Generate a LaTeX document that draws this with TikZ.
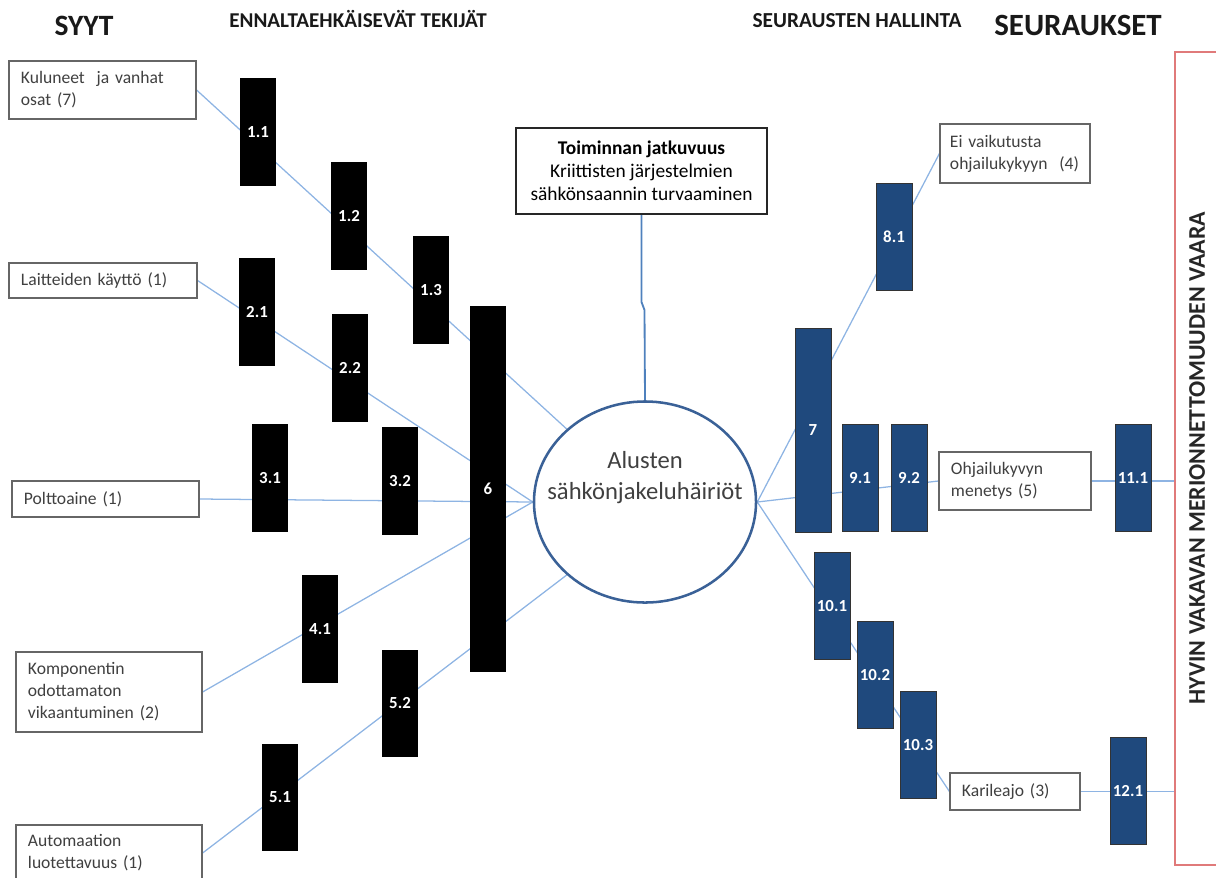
\documentclass[tikz,border=0pt]{standalone}
\usepackage{fontspec}
\setmainfont{Carlito}
\usepackage{tikz}
\usetikzlibrary{shapes.geometric}
\definecolor{tummansininen}{HTML}{1F497D}
\definecolor{vaaleansininen}{HTML}{8EB4E3}
\definecolor{keskisininen}{HTML}{4F81BD}
\definecolor{reunus}{HTML}{3A6197}
\definecolor{punainen}{HTML}{E07A7A}
\definecolor{teksti}{HTML}{404040}
\pgfdeclarelayer{tausta}
\pgfsetlayers{tausta,main}

\begin{document}
\begin{tikzpicture}[x=0.025cm, y=-0.025cm,
    musta/.style={fill=black, minimum width=0.9cm, minimum height=2.675cm, inner sep=0pt,
        text=white, font=\fontsize{12}{13}\selectfont\bfseries},
    sininen/.style={musta, fill=tummansininen, draw=black!80, line width=0.6pt},
    syy/.style={draw=black!60, line width=0.8pt, fill=white, align=left, inner xsep=0.3cm,
        inner ysep=0pt, text=teksti, font=\fontsize{12.5}{15.6}\selectfont},
    yhteys/.style={draw=vaaleansininen, line width=0.9pt},
    otsikko/.style={anchor=base, text=black!90}]
        \useasboundingbox (0,0) rectangle (1216,877);
        % Otsikot
        \node[otsikko, font=\fontsize{21}{23}\selectfont\bfseries] (syyt) at (84,35) {SYYT};
        \node[otsikko, font=\fontsize{15}{17}\selectfont\bfseries] (ennalta) at (358,27) {ENNALTAEHKÄISEVÄT TEKIJÄT};
        \node[otsikko, font=\fontsize{15.2}{17}\selectfont\bfseries] (hallinta) at (857,27) {SEURAUSTEN HALLINTA};
        \node[otsikko, font=\fontsize{22}{24}\selectfont\bfseries] (seuraukset) at (1078,35) {SEURAUKSET};
        % Syyt
        \node[syy, text width=4.075cm, minimum height=1.45cm] (kul) at (102.5,90) {Kuluneet\ \ ja vanhat\\osat (7)};
        \node[syy, text width=4.1cm, minimum height=0.875cm] (lai) at (103,280.5) {Laitteiden käyttö (1)};
        \node[syy, text width=4.075cm, minimum height=0.9cm] (pol) at (105.5,499) {Polttoaine (1)};
        \node[syy, text width=4.05cm, minimum height=2cm] (kom) at (109,692) {Komponentin\\odottamaton\\vikaantuminen (2)};
        \node[syy, text width=4.05cm, minimum height=1.4cm] (aut) at (109,853) {Automaation\\luotettavuus (1)};
        % Ennaltaehkäisevät tekijät
        \foreach \nimi/\x/\y/\nro in {b11/258/132/1.1, b12/349/216/1.2, b13/431/290/1.3,
                b21/257/312/2.1, b22/350/368/2.2, b31/270/478/3.1, b32/400/481/3.2,
                b41/320/629/4.1, b51/280/797/5.1, b52/400/703/5.2}
            {
                \node[musta] (\nimi) at (\x,\y) {\nro};
            }
        \node[musta, minimum height=9.15cm] (b6) at (488,489) {6};
        % Tapahtuma
        \node[ellipse, draw=reunus, line width=1.8pt, fill=white, minimum width=5.55cm,
            minimum height=5.025cm, inner sep=0pt] (hairio) at (645,502) {};
        \node[align=center, text=teksti, font=\fontsize{17.5}{22}\selectfont] (hairioteksti) at (645,478)
            {Alusten\\sähkönjakeluhäiriöt};
        \node[draw=black!85, line width=1.4pt, fill=white, align=center, minimum width=6.275cm,
            minimum height=2.15cm, text=black, font=\fontsize{13.8}{16.4}\selectfont] (toim) at (641.5,171)
            {\textbf{Toiminnan jatkuvuus}\\Kriittisten järjestelmien\\sähkönsaannin turvaaminen};
        % Seurausten hallinta
        \foreach \nimi/\x/\y/\nro in {s81/894/237/8.1, s91/860/478/9.1, s92/909/478/9.2,
                s101/832/606/10.1, s102/875/675/10.2, s103/918/745/10.3,
                s111/1133/478/11.1, s121/1128/791/12.1}
            {
                \node[sininen] (\nimi) at (\x,\y) {\nro};
            }
        \node[sininen, minimum height=5.1cm] (s7) at (813,430) {7};
        % Seuraukset
        \node[syy, inner xsep=0.25cm, text width=3.25cm, minimum height=1.475cm] (ei) at (1015,153.5)
            {Ei vaikutusta\\ohjailukykyyn\ \ (4)};
        \node[syy, text width=3.2cm, minimum height=1.45cm] (ohj) at (1015,481) {Ohjailukyvyn\\menetys (5)};
        \node[syy, text width=2.65cm, minimum height=0.925cm] (kar) at (1015,791.5) {Karileajo (3)};
        \draw[punainen, line width=1.5pt] (1175,52) rectangle (1240,865);
        \coordinate (punaraja) at (1175,52);
        \node[rotate=90, text=black!85, font=\fontsize{17}{19}\selectfont\bfseries] (vaara) at (1197,458)
            {HYVIN VAKAVAN MERIONNETTOMUUDEN VAARA};
        % Yhteydet
        \begin{pgfonlayer}{tausta}
            \draw[yhteys] (kul.east) -- (hairio.137.6);
            \draw[yhteys] (lai.east) -- (hairio.west);
            \draw[yhteys] (pol.east) -- (hairio.west);
            \draw[yhteys] (kom.east) -- (hairio.west);
            \draw[yhteys] (aut.east) -- (hairio.223.5);
            \draw[yhteys] (hairio.east) -- (ei.west);
            \draw[yhteys] (hairio.east) -- (ohj.west);
            \draw[yhteys] (hairio.east) -- (kar.west);
            \draw[yhteys] (ohj.east) -- (ohj.east -| punaraja);
            \draw[yhteys] (kar.east) -- (kar.east -| punaraja);
        \end{pgfonlayer}
        \draw[keskisininen, line width=1.3pt] (toim.south) -- ++(0,87) -- ++(3,8) -- (hairio.north);
    \end{tikzpicture}
\end{document}
